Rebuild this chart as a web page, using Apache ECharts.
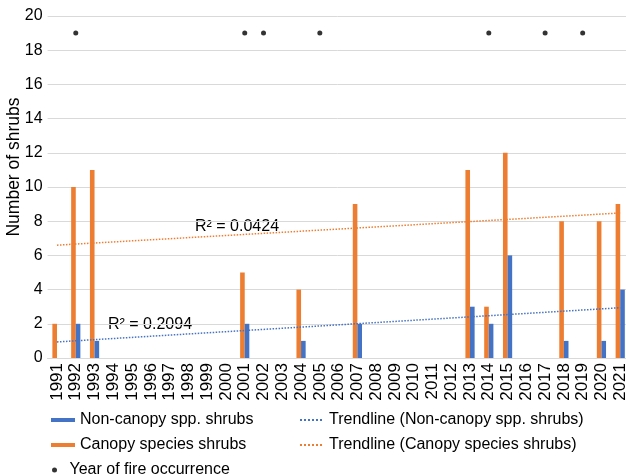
<!DOCTYPE html>
<html>
<head>
<meta charset="utf-8">
<script src="https://cdn.jsdelivr.net/npm/echarts@6/dist/echarts.min.js"></script>
<style>
  html, body { margin: 0; padding: 0; background: #fff; }
  #main { width: 626px; height: 476px; }
</style>
</head>
<body>
<div id="main"></div>
<script>
// categories
const years = ['1991', '1992', '1993', '1994', '1995', '1996', '1997', '1998', '1999', '2000',
    '2001', '2002', '2003', '2004', '2005', '2006', '2007', '2008', '2009', '2010',
    '2011', '2012', '2013', '2014', '2015', '2016', '2017', '2018', '2019', '2020', '2021'];

// shrub counts per year (null = no bar)
const canopy = [2, 10, 11, null, null, null, null, null, null, null,
    5, null, null, 4, null, null, 9, null, null, null,
    null, null, 11, 3, 12, null, null, 8, null, 8, 9];
const nonCanopy = [null, 2, 1, null, null, null, null, null, null, null,
    2, null, null, 1, null, null, 2, null, null, null,
    null, null, 3, 2, 6, null, null, 1, null, 1, 4];

// fire years, drawn as dots near the top
const fireYears = ['1992', '2001', '2002', '2005', '2014', '2017', '2019'];
const fireLevel = 19;

// trendline end points
const trendEnds = ['1991', '2021'];
const trendCanopy = [6.6, 8.48];
const trendNonCanopy = [0.94, 2.94];
const r2Canopy = 'R² = 0.0424';
const r2NonCanopy = 'R² = 0.2094';

const yTicks = [0, 20, 2]; // min, max, interval

const BLUE = '#4472C4';
const ORANGE = '#ED7D31';
const FONT = 'Arial, "Liberation Sans", sans-serif';

const chart = echarts.init(document.getElementById('main'));

const legendText = { fontSize: 16, color: '#000', lineHeight: 18, fontFamily: FONT };

const option = {
    animation: false,
    textStyle: { fontFamily: FONT },
    grid: { left: 47.6, width: 582, top: 16, bottom: 118, containLabel: false, outerBoundsMode: 'none' },
    xAxis: {
        type: 'category',
        data: years,
        axisLine: { lineStyle: { color: '#d9d9d9', width: 1 } },
        axisTick: { show: false },
        axisLabel: { rotate: 90, interval: 0, fontSize: 17, color: '#000', margin: 5, fontFamily: FONT }
    },
    yAxis: {
        type: 'value',
        min: yTicks[0],
        max: yTicks[1],
        interval: yTicks[2],
        axisLine: { show: false },
        axisTick: { show: false },
        axisLabel: { fontSize: 16, color: '#000', margin: 5, fontFamily: FONT },
        splitLine: { lineStyle: { color: '#d9d9d9', width: 1 } }
    },
    legend: [
        {
            orient: 'vertical', left: 51, top: 411, padding: 0,
            itemWidth: 24, itemHeight: 4, itemGap: 7,
            icon: 'rect',
            data: ['Non-canopy spp. shrubs', 'Canopy species shrubs'],
            textStyle: legendText
        },
        {
            orient: 'vertical', left: 52, top: 461, padding: 0,
            itemWidth: 20, itemHeight: 5, itemGap: 0,
            data: ['Year of fire occurrence'],
            textStyle: legendText
        },
        {
            orient: 'vertical', left: 299, top: 411, padding: 0,
            itemWidth: 24, itemHeight: 4, itemGap: 7,
            itemStyle: { opacity: 0 },
            data: ['Trendline (Non-canopy spp. shrubs)', 'Trendline (Canopy species shrubs)'],
            textStyle: legendText
        }
    ],
    series: [
        {
            name: 'Canopy species shrubs',
            type: 'bar',
            data: canopy,
            barWidth: 4.6,
            barGap: 0,
            itemStyle: { color: ORANGE }
        },
        {
            name: 'Non-canopy spp. shrubs',
            type: 'bar',
            data: nonCanopy,
            barWidth: 4.6,
            itemStyle: { color: BLUE }
        },
        {
            name: 'Trendline (Non-canopy spp. shrubs)',
            type: 'line',
            symbol: 'none',
            data: trendEnds.map((y, i) => [y, trendNonCanopy[i]]),
            lineStyle: { color: BLUE, width: 1.5, type: 'dotted' },
            itemStyle: { color: BLUE },
            z: 5
        },
        {
            name: 'Trendline (Canopy species shrubs)',
            type: 'line',
            symbol: 'none',
            data: trendEnds.map((y, i) => [y, trendCanopy[i]]),
            lineStyle: { color: ORANGE, width: 1.5, type: 'dotted' },
            itemStyle: { color: ORANGE },
            z: 5
        },
        {
            name: 'Year of fire occurrence',
            type: 'scatter',
            symbol: 'circle',
            symbolSize: 5,
            data: fireYears.map(y => [y, fireLevel]),
            itemStyle: { color: '#000' },
            z: 6
        }
    ],
    graphic: [
        {
            type: 'text', x: 14, y: 167, rotation: Math.PI / 2,
            style: { text: 'Number of shrubs', fill: '#000', font: '17.5px ' + FONT, align: 'center', verticalAlign: 'middle' }
        },
        {
            type: 'text', x: 195, y: 227,
            style: { text: r2Canopy, fill: '#000', font: '16px ' + FONT, align: 'left', verticalAlign: 'middle' }
        },
        {
            type: 'text', x: 108, y: 325,
            style: { text: r2NonCanopy, fill: '#000', font: '16px ' + FONT, align: 'left', verticalAlign: 'middle' }
        }
    ]
};

chart.setOption(option);
</script>
</body>
</html>
